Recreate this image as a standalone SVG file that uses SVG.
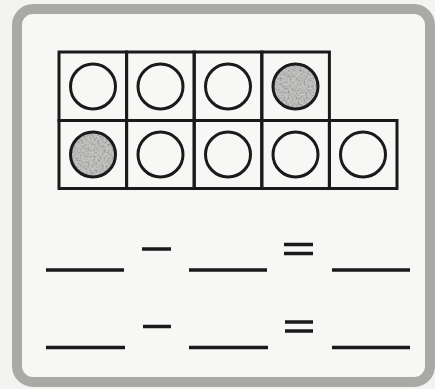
<svg xmlns="http://www.w3.org/2000/svg" width="435" height="389" viewBox="0 0 435 389">
  <style>
    .cell { fill: none; stroke: #1a1a1a; stroke-width: 3; }
    .ring { fill: none; stroke: #1a1a1a; stroke-width: 3; }
    .fill { fill: #c4c4c2; }
    .blank { stroke: #1a1a1a; stroke-width: 3.5; }
    .op { stroke: #1a1a1a; stroke-width: 3.5; }
  </style>
  <defs>
    <filter id="speck" x="0" y="0" width="100%" height="100%">
      <feTurbulence type="fractalNoise" baseFrequency="0.5" numOctaves="2" seed="3" result="n"/>
      <feColorMatrix in="n" type="matrix" values="0 0 0 0 0.3  0 0 0 0 0.3  0 0 0 0 0.3  0 0 0 2.6 -1.05" result="dark"/>
      <feComposite in="dark" in2="SourceGraphic" operator="atop"/>
    </filter>
  </defs>
  <rect x="0" y="0" width="435" height="389" fill="#f3f3f1"/>
  <g id="frame">
    <rect x="17" y="9" width="413" height="373" rx="16" fill="#f7f7f5" stroke="#a9aaa5" stroke-width="10"/>
  </g>
  <g id="grid">
    <rect class="cell" x="59" y="52" width="67.6" height="68.5"/>
    <rect class="cell" x="126.6" y="52" width="67.6" height="68.5"/>
    <rect class="cell" x="194.2" y="52" width="67.6" height="68.5"/>
    <rect class="cell" x="261.8" y="52" width="67.6" height="68.5"/>
    <rect class="cell" x="59" y="120.5" width="67.6" height="68"/>
    <rect class="cell" x="126.6" y="120.5" width="67.6" height="68"/>
    <rect class="cell" x="194.2" y="120.5" width="67.6" height="68"/>
    <rect class="cell" x="261.8" y="120.5" width="67.6" height="68"/>
    <rect class="cell" x="329.4" y="120.5" width="67.6" height="68"/>
  </g>
  <g id="counters">
    <circle class="fill" cx="295.5" cy="86.5" r="22" filter="url(#speck)"/>
    <circle class="fill" cx="93" cy="154.5" r="22" filter="url(#speck)"/>
    <circle class="ring" cx="93" cy="86.5" r="22.5"/>
    <circle class="ring" cx="160.5" cy="86.5" r="22.5"/>
    <circle class="ring" cx="228" cy="86.5" r="22.5"/>
    <circle class="ring" cx="295.5" cy="86.5" r="22.5"/>
    <circle class="ring" cx="93" cy="154.5" r="22.5"/>
    <circle class="ring" cx="160.5" cy="154.5" r="22.5"/>
    <circle class="ring" cx="228" cy="154.5" r="22.5"/>
    <circle class="ring" cx="295.5" cy="154.5" r="22.5"/>
    <circle class="ring" cx="363" cy="154.5" r="22.5"/>
  </g>
  <g id="sentence1">
    <line class="blank" x1="46" y1="270" x2="124" y2="270"/>
    <line class="op" x1="142" y1="249" x2="171" y2="249"/>
    <line class="blank" x1="189" y1="270" x2="267" y2="270"/>
    <line class="op" x1="284" y1="244.5" x2="313" y2="244.5"/>
    <line class="op" x1="284" y1="253.5" x2="313" y2="253.5"/>
    <line class="blank" x1="332" y1="270" x2="410" y2="270"/>
  </g>
  <g id="sentence2">
    <line class="blank" x1="46" y1="347.5" x2="125" y2="347.5"/>
    <line class="op" x1="143" y1="326.5" x2="171" y2="326.5"/>
    <line class="blank" x1="189" y1="347.5" x2="268" y2="347.5"/>
    <line class="op" x1="285" y1="322" x2="313" y2="322"/>
    <line class="op" x1="285" y1="331" x2="313" y2="331"/>
    <line class="blank" x1="332" y1="347.5" x2="410" y2="347.5"/>
  </g>
</svg>
